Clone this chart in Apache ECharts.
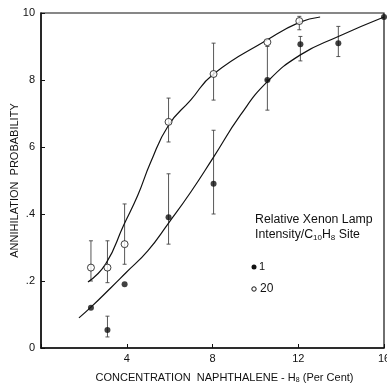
<!DOCTYPE html>
<html><head><meta charset="utf-8">
<script src="https://cdn.jsdelivr.net/npm/echarts@6/dist/echarts.min.js"></script>
<style>html,body{margin:0;padding:0;background:#fff}#c{width:387px;height:386px}</style>
</head><body><div id="c"></div>
<script>
// Series "1" (filled circles)
const filledX  = [2.33, 3.1, 3.9, 5.95, 8.05, 10.56, 12.1, 13.87, 16.0];
const filledY  = [0.12, 0.054, 0.19, 0.39, 0.49, 0.80, 0.907, 0.91, 0.988];
const filledLo = [null, 0.033, null, 0.31, 0.40, 0.71, 0.857, 0.87, null];
const filledHi = [null, 0.095, null, 0.52, 0.65, 0.90, 0.93, 0.96, null];
// Series "20" (open circles)
const openX  = [2.33, 3.1, 3.9, 5.95, 8.05, 10.56, 12.05];
const openY  = [0.24, 0.24, 0.31, 0.675, 0.818, 0.913, 0.976];
const openLo = [0.20, 0.195, 0.25, 0.615, 0.74, 0.80, 0.95];
const openHi = [0.32, 0.32, 0.43, 0.746, 0.91, null, 0.99];
// Fitted curves
const curve20X = [2.19, 3.02, 3.86, 4.51, 5.12, 5.95, 6.98, 8.05, 10.56, 12.05, 13.02];
const curve20Y = [0.197, 0.251, 0.367, 0.455, 0.555, 0.665, 0.74, 0.818, 0.92, 0.972, 0.988];
const curve1X = [1.77, 2.33, 3.26, 3.95, 4.98, 5.95, 6.98, 8.05, 9.3, 10.56, 12.1, 13.87, 16.0];
const curve1Y = [0.09, 0.122, 0.18, 0.224, 0.29, 0.373, 0.465, 0.57, 0.695, 0.795, 0.875, 0.93, 0.988];
// Axis ticks
const xTicks = [4, 8, 12, 16];
const yTickLabels = {0: '0', 0.2: '.2', 0.4: '.4', 0.6: '6', 0.8: '8', 1: '10'};

const zip = (xs, ys) => xs.map((x, i) => [x, ys[i]]);
const bars = (xs, lo, hi) => xs.map((x, i) => [x, lo[i], hi[i]]).filter(d => d[1] != null || d[2] != null);

function errRender(params, api) {
  const x = api.value(0), lo = api.value(1), hi = api.value(2);
  const pLo = api.coord([x, lo]);
  const pHi = api.coord([x, isNaN(hi) ? lo : hi]);
  const cap = 2;
  const st = {stroke: '#444', lineWidth: 0.9};
  return {
    type: 'group',
    children: [
      {type: 'line', shape: {x1: pLo[0], y1: pLo[1], x2: pHi[0], y2: pHi[1]}, style: st},
      {type: 'line', shape: {x1: pLo[0]-cap, y1: pLo[1], x2: pLo[0]+cap, y2: pLo[1]}, style: st},
      {type: 'line', shape: {x1: pHi[0]-cap, y1: pHi[1], x2: pHi[0]+cap, y2: pHi[1]}, style: st}
    ]
  };
}

const chart = echarts.init(document.getElementById('c'), null, {renderer: 'canvas'});
const font = 'Liberation Sans, Arial, sans-serif';
chart.setOption({
  animation: false,
  backgroundColor: '#fff',
  grid: {left: 41, right: 3, top: 13, bottom: 38, outerBoundsMode: 'none', containLabel: false,
    show: true, borderColor: '#111', borderWidth: 1.2},
  xAxis: {
    type: 'value', min: 0, max: 16, interval: 4,
    axisLine: {lineStyle: {color: '#111', width: 1.5}},
    axisTick: {inside: true, length: 4, lineStyle: {color: '#111'}},
    splitLine: {show: false},
    axisLabel: {color: '#111', fontFamily: font, fontSize: 11, margin: 5,
      formatter: v => xTicks.includes(v) ? String(v) : ''},
    name: '{a|CONCENTRATION  NAPHTHALENE - H}{s|8}{a| (Per Cent)}',
    nameLocation: 'middle', nameGap: 23,
    nameTextStyle: {padding: [0, 0, 0, 24], rich: {a: {fontFamily: font, fontSize: 11, color: '#111'}, s: {fontFamily: font, fontSize: 7, color: '#111', verticalAlign: 'bottom', padding: [6, 0, 0, 0]}}}
  },
  yAxis: {
    type: 'value', min: 0, max: 1, interval: 0.2,
    axisLine: {lineStyle: {color: '#111', width: 1.5}},
    axisTick: {inside: true, length: 4, lineStyle: {color: '#111'}},
    splitLine: {show: false},
    axisLabel: {color: '#111', fontFamily: font, fontSize: 11, margin: 6,
      formatter: v => yTickLabels[Math.round(v * 10) / 10] ?? ''},
    name: 'ANNIHILATION  PROBABILITY', nameLocation: 'middle', nameGap: 21, nameMoveOverlap: false,
    nameTextStyle: {fontFamily: font, fontSize: 11, color: '#111'}
  },
  series: [
    {type: 'line', data: zip(curve20X, curve20Y), smooth: 0.5, symbol: 'none', lineStyle: {color: '#111', width: 1.2}, silent: true},
    {type: 'line', data: zip(curve1X, curve1Y), smooth: 0.5, symbol: 'none', lineStyle: {color: '#111', width: 1.2}, silent: true},
    {type: 'custom', renderItem: errRender, data: bars(filledX, filledLo, filledHi), encode: {x: 0, y: [1, 2]}, z: 3},
    {type: 'custom', renderItem: errRender, data: bars(openX, openLo, openHi), encode: {x: 0, y: [1, 2]}, z: 3},
    {name: '1', type: 'scatter', data: zip(filledX, filledY), symbol: 'circle', symbolSize: 6,
      itemStyle: {color: '#111'}, z: 5},
    {name: '20', type: 'scatter', data: zip(openX, openY), symbol: 'circle', symbolSize: 7,
      itemStyle: {color: '#fff', borderColor: '#111', borderWidth: 1}, z: 6}
  ],
  graphic: [
    {type: 'text', left: 255, top: 214, style: {text: 'Relative Xenon Lamp', font: '12.3px ' + font, fill: '#111'}},
    {type: 'text', left: 255, top: 229, style: {
      text: '{a|Intensity/C}{s|10}{a|H}{s|8}{a| Site}',
      rich: {a: {fontFamily: font, fontSize: 12.3, fill: '#111'}, s: {fontFamily: font, fontSize: 8, fill: '#111', padding: [6, 0, 0, 0]}}
    }},
    {type: 'circle', shape: {cx: 254, cy: 267, r: 2.5}, style: {fill: '#111'}},
    {type: 'text', left: 259, top: 261, style: {text: '1', font: '11px ' + font, fill: '#111'}},
    {type: 'circle', shape: {cx: 254, cy: 289, r: 2.2}, style: {fill: '#fff', stroke: '#111', lineWidth: 1}},
    {type: 'text', left: 260, top: 283, style: {text: '20', font: '12px ' + font, fill: '#111'}}
  ]
});
</script></body></html>
